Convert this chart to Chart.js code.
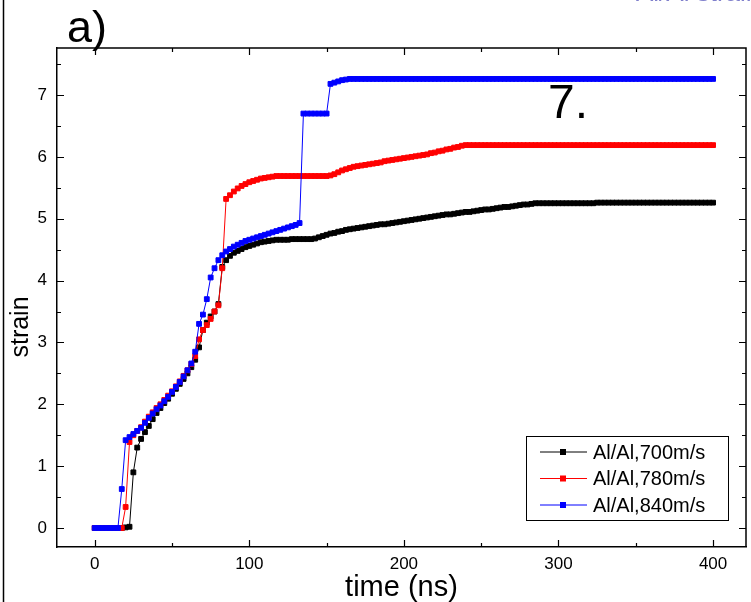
<!DOCTYPE html>
<html>
<head>
<meta charset="utf-8">
<script src="https://cdn.jsdelivr.net/npm/chart.js@4.4.1/dist/chart.umd.min.js"></script>
<style>
html, body { margin: 0; padding: 0; background: #fff; overflow: hidden; }
#wrap { width: 751px; height: 602px; }
</style>
</head>
<body>
<div id="wrap"><canvas id="chart" width="751" height="602"></canvas></div>
<script>
// time axis (ns), one sample every 2.5 ns
const times = [
    0, 2.5, 5, 7.5, 10, 12.5, 15, 17.5, 20, 22.5,
    25, 27.5, 30, 32.5, 35, 37.5, 40, 42.5, 45, 47.5,
    50, 52.5, 55, 57.5, 60, 62.5, 65, 67.5, 70, 72.5,
    75, 77.5, 80, 82.5, 85, 87.5, 90, 92.5, 95, 97.5,
    100, 102.5, 105, 107.5, 110, 112.5, 115, 117.5, 120, 122.5,
    125, 127.5, 130, 132.5, 135, 137.5, 140, 142.5, 145, 147.5,
    150, 152.5, 155, 157.5, 160, 162.5, 165, 167.5, 170, 172.5,
    175, 177.5, 180, 182.5, 185, 187.5, 190, 192.5, 195, 197.5,
    200, 202.5, 205, 207.5, 210, 212.5, 215, 217.5, 220, 222.5,
    225, 227.5, 230, 232.5, 235, 237.5, 240, 242.5, 245, 247.5,
    250, 252.5, 255, 257.5, 260, 262.5, 265, 267.5, 270, 272.5,
    275, 277.5, 280, 282.5, 285, 287.5, 290, 292.5, 295, 297.5,
    300, 302.5, 305, 307.5, 310, 312.5, 315, 317.5, 320, 322.5,
    325, 327.5, 330, 332.5, 335, 337.5, 340, 342.5, 345, 347.5,
    350, 352.5, 355, 357.5, 360, 362.5, 365, 367.5, 370, 372.5,
    375, 377.5, 380, 382.5, 385, 387.5, 390, 392.5, 395, 397.5,
    400
];

const strain700 = [
    0, 0, 0, 0, 0, 0, 0, 0, 0.01, 0.02,
    0.90, 1.30, 1.44, 1.55, 1.65, 1.76, 1.86, 1.94, 2.02, 2.09,
    2.17, 2.25, 2.33, 2.41, 2.50, 2.60, 2.72, 2.92, 3.20, 3.32,
    3.42, 3.50, 3.62, 4.22, 4.33, 4.40, 4.45, 4.48, 4.51, 4.54,
    4.56, 4.58, 4.60, 4.62, 4.63, 4.64, 4.65, 4.66, 4.66, 4.66,
    4.66, 4.67, 4.67, 4.67, 4.67, 4.67, 4.67, 4.68, 4.70, 4.72,
    4.74, 4.76, 4.77, 4.79, 4.80, 4.82, 4.83, 4.84, 4.85, 4.86,
    4.87, 4.88, 4.89, 4.90, 4.91, 4.91, 4.92, 4.93, 4.94, 4.95,
    4.96, 4.97, 4.98, 4.99, 5.00, 5.01, 5.02, 5.03, 5.04, 5.05,
    5.06, 5.07, 5.07, 5.08, 5.09, 5.10, 5.11, 5.11, 5.12, 5.13,
    5.14, 5.15, 5.15, 5.16, 5.17, 5.18, 5.19, 5.19, 5.20, 5.21,
    5.22, 5.23, 5.23, 5.24, 5.25, 5.25, 5.25, 5.25, 5.25, 5.25,
    5.25, 5.25, 5.25, 5.25, 5.25, 5.25, 5.25, 5.25, 5.25, 5.25,
    5.26, 5.26, 5.26, 5.26, 5.26, 5.26, 5.26, 5.26, 5.26, 5.26,
    5.26, 5.26, 5.26, 5.26, 5.26, 5.26, 5.26, 5.26, 5.26, 5.26,
    5.26, 5.26, 5.26, 5.26, 5.26, 5.26, 5.26, 5.26, 5.26, 5.26,
    5.26
];

const strain780 = [
    0, 0, 0, 0, 0, 0, 0, 0, 0.34, 1.39,
    1.50, 1.57, 1.63, 1.72, 1.80, 1.87, 1.94, 2.00, 2.07, 2.14,
    2.21, 2.29, 2.37, 2.46, 2.55, 2.65, 2.78, 3.05, 3.20, 3.28,
    3.38, 3.50, 3.60, 4.20, 5.32, 5.38, 5.44, 5.49, 5.53, 5.56,
    5.59, 5.61, 5.63, 5.65, 5.66, 5.67, 5.68, 5.69, 5.69, 5.69,
    5.69, 5.69, 5.69, 5.69, 5.69, 5.69, 5.69, 5.69, 5.69, 5.69,
    5.69, 5.70, 5.72, 5.75, 5.78, 5.80, 5.82, 5.84, 5.85, 5.86,
    5.87, 5.88, 5.89, 5.90, 5.91, 5.93, 5.94, 5.95, 5.96, 5.97,
    5.98, 5.99, 6.00, 6.01, 6.02, 6.03, 6.04, 6.06, 6.07, 6.09,
    6.10, 6.12, 6.13, 6.15, 6.16, 6.18, 6.19, 6.19, 6.19, 6.19,
    6.19, 6.19, 6.19, 6.19, 6.19, 6.19, 6.19, 6.19, 6.19, 6.19,
    6.19, 6.19, 6.19, 6.19, 6.19, 6.19, 6.19, 6.19, 6.19, 6.19,
    6.19, 6.19, 6.19, 6.19, 6.19, 6.19, 6.19, 6.19, 6.19, 6.19,
    6.19, 6.19, 6.19, 6.19, 6.19, 6.19, 6.19, 6.19, 6.19, 6.19,
    6.19, 6.19, 6.19, 6.19, 6.19, 6.19, 6.19, 6.19, 6.19, 6.19,
    6.19, 6.19, 6.19, 6.19, 6.19, 6.19, 6.19, 6.19, 6.19, 6.19,
    6.19
];

const strain840 = [
    0, 0, 0, 0, 0, 0, 0, 0.63, 1.42, 1.47,
    1.52, 1.57, 1.62, 1.70, 1.78, 1.85, 1.92, 1.98, 2.05, 2.12,
    2.20, 2.28, 2.36, 2.45, 2.55, 2.66, 2.85, 3.30, 3.45, 3.70,
    4.05, 4.20, 4.33, 4.41, 4.47, 4.51, 4.55, 4.58, 4.61, 4.64,
    4.66, 4.68, 4.70, 4.72, 4.74, 4.76, 4.78, 4.80, 4.82, 4.84,
    4.86, 4.88, 4.90, 4.93, 6.70, 6.70, 6.70, 6.70, 6.70, 6.70,
    6.70, 7.18, 7.20, 7.22, 7.24, 7.25, 7.26, 7.26, 7.26, 7.26,
    7.26, 7.26, 7.26, 7.26, 7.26, 7.26, 7.26, 7.26, 7.26, 7.26,
    7.26, 7.26, 7.26, 7.26, 7.26, 7.26, 7.26, 7.26, 7.26, 7.26,
    7.26, 7.26, 7.26, 7.26, 7.26, 7.26, 7.26, 7.26, 7.26, 7.26,
    7.26, 7.26, 7.26, 7.26, 7.26, 7.26, 7.26, 7.26, 7.26, 7.26,
    7.26, 7.26, 7.26, 7.26, 7.26, 7.26, 7.26, 7.26, 7.26, 7.26,
    7.26, 7.26, 7.26, 7.26, 7.26, 7.26, 7.26, 7.26, 7.26, 7.26,
    7.26, 7.26, 7.26, 7.26, 7.26, 7.26, 7.26, 7.26, 7.26, 7.26,
    7.26, 7.26, 7.26, 7.26, 7.26, 7.26, 7.26, 7.26, 7.26, 7.26,
    7.26, 7.26, 7.26, 7.26, 7.26, 7.26, 7.26, 7.26, 7.26, 7.26,
    7.26
];

const seriesLabels = ['Al/Al,700m/s', 'Al/Al,780m/s', 'Al/Al,840m/s'];
const seriesColors = ['#000000', '#ff0000', '#0000ff'];
const xTicks = [0, 100, 200, 300, 400];
const yTicks = [0, 1, 2, 3, 4, 5, 6, 7];

const FONT = '"Liberation Sans", Arial, sans-serif';

function toPoints(values) {
    return times.map((t, i) => ({ x: t, y: values[i] }));
}

function makeDataset(values, idx) {
    return {
        label: seriesLabels[idx],
        data: toPoints(values),
        borderColor: seriesColors[idx],
        backgroundColor: seriesColors[idx],
        pointBackgroundColor: seriesColors[idx],
        pointBorderColor: seriesColors[idx],
        borderWidth: 1,
        pointStyle: 'rect',
        pointRadius: 3.4,
        pointBorderWidth: 1,
        tension: 0,
        order: 2 - idx
    };
}

// inward ticks on all four sides, top/right frame, legend and labels
const decor = {
    id: 'decor',
    afterDraw(chart) {
        const { ctx, chartArea: a, scales: { x, y } } = chart;
        ctx.save();

        ctx.strokeStyle = '#000';
        ctx.lineWidth = 1.5;
        ctx.beginPath();
        ctx.moveTo(a.left, a.top);
        ctx.lineTo(a.right, a.top);
        ctx.lineTo(a.right, a.bottom);
        ctx.stroke();

        // left page frame
        ctx.beginPath();
        ctx.moveTo(3.5, 0);
        ctx.lineTo(3.5, 602);
        ctx.stroke();

        ctx.lineWidth = 1.2;
        const xStep = xTicks[1] - xTicks[0];
        const yStep = yTicks[1] - yTicks[0];
        const xMinor = xTicks.map(v => v + xStep / 2).filter(v => v < x.max);
        const yMinor = yTicks.map(v => v + yStep / 2).filter(v => v < y.max);

        const vTick = (v, len) => {
            const px = Math.round(x.getPixelForValue(v)) + 0.5;
            ctx.beginPath();
            ctx.moveTo(px, a.bottom); ctx.lineTo(px, a.bottom - len);
            ctx.moveTo(px, a.top); ctx.lineTo(px, a.top + len);
            ctx.stroke();
        };
        const hTick = (v, len) => {
            const py = Math.round(y.getPixelForValue(v)) + 0.5;
            ctx.beginPath();
            ctx.moveTo(a.left, py); ctx.lineTo(a.left + len, py);
            ctx.moveTo(a.right, py); ctx.lineTo(a.right - len, py);
            ctx.stroke();
        };
        xTicks.forEach(v => vTick(v, 7));
        xMinor.forEach(v => vTick(v, 4));
        yTicks.forEach(v => hTick(v, 7));
        yMinor.forEach(v => hTick(v, 4));

        // y axis title
        ctx.save();
        ctx.translate(21, 327);
        ctx.rotate(-Math.PI / 2);
        ctx.fillStyle = '#000';
        ctx.font = '25px ' + FONT;
        ctx.textAlign = 'center';
        ctx.textBaseline = 'middle';
        ctx.fillText('strain', 0, 0);
        ctx.restore();

        // legend
        const box = { x: 526.5, y: 436.5, w: 202, h: 84 };
        ctx.fillStyle = '#fff';
        ctx.fillRect(box.x, box.y, box.w, box.h);
        ctx.strokeStyle = '#000';
        ctx.lineWidth = 1;
        ctx.strokeRect(box.x, box.y, box.w, box.h);
        ctx.font = '20px ' + FONT;
        ctx.textBaseline = 'middle';
        chart.data.datasets.forEach((ds, i) => {
            const ly = 452 + i * 26.5;
            ctx.strokeStyle = ds.borderColor;
            ctx.beginPath();
            ctx.moveTo(540, ly); ctx.lineTo(587, ly);
            ctx.stroke();
            ctx.fillStyle = ds.borderColor;
            ctx.fillRect(560, ly - 3, 6, 6);
            ctx.fillStyle = '#000';
            ctx.fillText(ds.label, 593, ly + 1);
        });

        // panel labels
        ctx.textBaseline = 'alphabetic';
        ctx.fillStyle = '#000';
        ctx.font = '45px ' + FONT;
        ctx.fillText('a)', 67, 42);
        ctx.font = '48px ' + FONT;
        ctx.fillText('7.', 548, 118);
        // caption cut off at the top edge of the page
        ctx.fillStyle = '#8080cc';
        ctx.font = '26px ' + FONT;
        ctx.fillText('Al/Al strain', 636, 1);

        ctx.restore();
    }
};

new Chart(document.getElementById('chart'), {
    type: 'line',
    data: {
        datasets: [
            makeDataset(strain700, 0),
            makeDataset(strain780, 1),
            makeDataset(strain840, 2)
        ]
    },
    options: {
        responsive: false,
        animation: false,
        devicePixelRatio: 1,
        layout: { padding: { top: 48, right: 1, left: 0, bottom: 0 } },
        plugins: { legend: { display: false }, tooltip: { enabled: false } },
        scales: {
            x: {
                type: 'linear',
                min: -24.4,
                max: 421.3,
                afterBuildTicks: s => { s.ticks = xTicks.map(v => ({ value: v })); },
                afterFit: s => { s.height = 55; },
                grid: { display: false, drawTicks: false },
                border: { display: true, color: '#000', width: 1.5 },
                ticks: { color: '#000', font: { family: FONT, size: 17 }, padding: 7, maxRotation: 0 },
                title: { display: true, text: 'time (ns)', color: '#000', font: { family: FONT, size: 29 }, padding: { top: 0, bottom: -3 } }
            },
            y: {
                min: -0.307,
                max: 7.76,
                afterBuildTicks: s => { s.ticks = yTicks.map(v => ({ value: v })); },
                afterFit: s => { s.width = 57; },
                grid: { display: false, drawTicks: false },
                border: { display: true, color: '#000', width: 1.5 },
                ticks: { color: '#000', font: { family: FONT, size: 17 }, padding: 10 },
                title: { display: false }
            }
        }
    },
    plugins: [decor]
});
</script>
</body>
</html>
